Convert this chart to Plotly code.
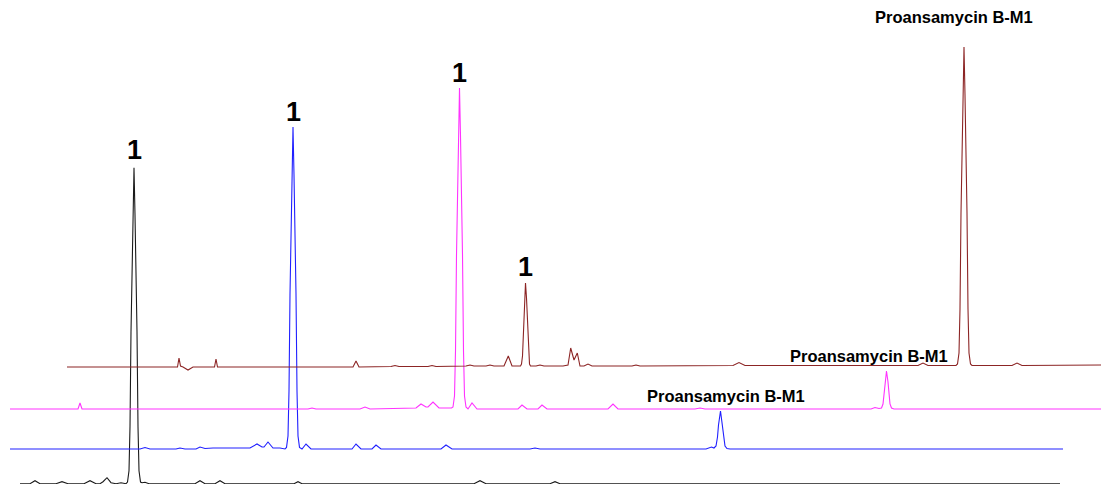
import plotly.graph_objects as go

# ---- data: retention position (t) and detector intensity (i) ----
black_t = [20, 30, 35, 40, 56, 62, 68, 84, 90, 96, 100, 103, 107, 111, 116, 121,
           126, 127.5, 129, 130, 131, 132, 133, 134, 135, 136, 137, 138, 139, 140.5, 142, 145, 149,
           195, 200, 205, 215, 220, 225, 294, 298, 302, 474, 480, 486, 550, 555, 560, 1060]
black_i = [0, 0, 3, 0, 0, 2, 0, 0, 3, 0, 0, 2, 6, 1, 0, 1,
           0, 1.6, 13, 57, 152, 215, 269, 316, 269, 215, 152, 57, 13, 1.6, 1, 1.5, 0,
           0, 3, 0, 0, 3, 0, 0, 2, 0, 0, 3, 0, 0, 2, 0, 0]

blue_t = [10, 140, 145, 150, 176, 180, 185, 196, 200, 205, 213, 235, 250, 257, 262, 264, 268, 273, 280,
          285, 286.5, 288, 289, 290, 291, 292, 293, 294, 295, 296, 297, 298, 299.5, 302,
          306, 311, 352, 356, 361, 372, 376, 381, 441, 446, 452, 530, 535, 540,
          706, 711.5, 714, 716, 717.5, 718.5, 720.5, 722.5, 723.5, 725, 727, 730, 1063]
blue_i = [0, 0, 1.5, 0, 0, 1, 0, 0, 2, 0.5, 1, 1, 1, 5, 2, 2, 7, 1, 1,
          0, 1.6, 13, 58, 155, 219, 274, 322, 274, 219, 155, 58, 13, 1.6, 0,
          5, 0, 0, 5, 0, 0, 4, 0, 0, 4, 0, 0, 1, 0,
          0, 2, 1, 3, 12, 24, 38, 24, 12, 3, 0.5, 0, 0]

magenta_t = [10, 78, 80, 82, 308, 312, 316, 360, 365, 370, 416, 421, 426, 428, 433, 439,
             451.5, 453, 454.5, 455.5, 456.5, 457.5, 458.5, 459.5, 460.5, 461.5, 462.5, 463.5, 464.5, 466, 468,
             472, 477, 518, 522, 527, 538, 542, 547, 608, 613, 618, 695, 700, 705,
             871, 875, 879, 881.5, 883, 884, 885, 886.5, 888, 889, 890, 891.5, 894, 1109]
magenta_i = [0, 0, 6, 0, 0, 1, 0, 0, 2, 0, 1, 5, 2, 2, 7, 1,
             1, 2, 13, 58, 154, 218, 273, 321, 273, 218, 154, 58, 13, 2, 0,
             6, 0, 0, 4, 0, 0, 4, 0, 0, 5, 0, 0, 1, 0,
             0, 1.5, 0.5, 1, 5, 14, 27, 38, 27, 14, 5, 1, 0, 0]

brown_t = [67, 177.5, 179, 180.5, 183, 188, 193, 214.5, 216, 217.5, 353, 356, 359, 391, 395, 399, 428, 432, 436, 466, 470, 474, 486, 490, 494,
           504, 508.3, 512, 520.5, 521.5, 522.5, 523.5, 524.5, 525.5, 526.5, 527.5, 528.5, 529.5, 530.5, 536, 540, 544,
           563, 566, 568, 570.7, 574, 577.3, 580, 584, 588, 592, 632, 636, 640, 733, 739, 745, 918, 923, 928,
           956, 957.5, 959, 960, 961, 962, 963, 964, 965, 966, 967, 968, 969, 970.5, 972, 1012, 1017, 1022, 1109]
brown_i = [0, 0, 9, 1, 0, -3, 0, 0, 8, 0, 0, 6, 0, 0.5, 1.5, 0.5, 0.5, 1.5, 0.5, 1, 2, 1, 1, 2, 1,
           1, 11, 1, 1, 3, 11, 41, 69, 84, 69, 41, 11, 3, 1, 1, 2, 1,
           1, 2, 2, 19, 7, 14, 1, 1, 3, 1, 1, 2, 1, 1.5, 4.5, 1.5, 1.5, 4, 1.5,
           1.5, 3, 14, 58, 154, 218, 272, 320, 272, 218, 154, 58, 14, 3, 1.5, 1.5, 4, 1.5, 2]

# ---- stacking offsets of the overlay (vertical) ----
traces = [
    ("black", black_t, black_i, 0.3, "#1a1a1a"),
    ("blue", blue_t, blue_i, 35, "#2020ff"),
    ("magenta", magenta_t, magenta_i, 75, "#ff33ff"),
    ("brown", brown_t, brown_i, 117, "#8c2525"),
]

fig = go.Figure()
tops = {}
for name, t, i, off, col in traces:
    y = [v + off for v in i]
    fig.add_trace(go.Scatter(x=t, y=y, mode="lines", line=dict(color=col, width=1.1),
                             hoverinfo="skip", showlegend=False))
    k = i.index(max(i))
    tops[name] = (t[k], y[k])

label_font = dict(family="Liberation Sans, Arial, sans-serif", size=27, color="black")
small_font = dict(family="Liberation Sans, Arial, sans-serif", size=16.5, color="black")

for name, ys in {"black": 18, "blue": 15, "magenta": 15}.items():
    x0, y0 = tops[name]
    fig.add_annotation(x=x0, y=y0, text="<b>1</b>", showarrow=False, font=label_font,
                       yanchor="middle", yshift=ys)
bk = brown_t.index(525.5)
fig.add_annotation(x=525.5, y=brown_i[bk] + 117, text="<b>1</b>", showarrow=False, font=label_font,
                   yanchor="middle", yshift=16)

fig.add_annotation(x=tops["brown"][0], y=tops["brown"][1], text="<b>Proansamycin B-M1</b>", showarrow=False,
                   font=small_font, yanchor="middle", xshift=-10, yshift=30)
mk = magenta_t.index(886.5)
fig.add_annotation(x=886.5, y=magenta_i[mk] + 75, text="<b>Proansamycin B-M1</b>",
                   showarrow=False, font=small_font, yanchor="middle", xshift=-18, yshift=15)
bl = blue_t.index(720.5)
fig.add_annotation(x=720.5, y=blue_i[bl] + 35, text="<b>Proansamycin B-M1</b>", showarrow=False,
                   font=small_font, yanchor="middle", xshift=5, yshift=15)

# page body has an 8px default margin; size the figure to fit the window
fig.update_layout(
    width=1101, height=476, margin=dict(l=0, r=0, t=0, b=0),
    paper_bgcolor="white", plot_bgcolor="white",
    xaxis=dict(range=[8, 1109], visible=False, fixedrange=True),
    yaxis=dict(range=[0, 476], visible=False, fixedrange=True),
)
fig.write_html("out.html")
